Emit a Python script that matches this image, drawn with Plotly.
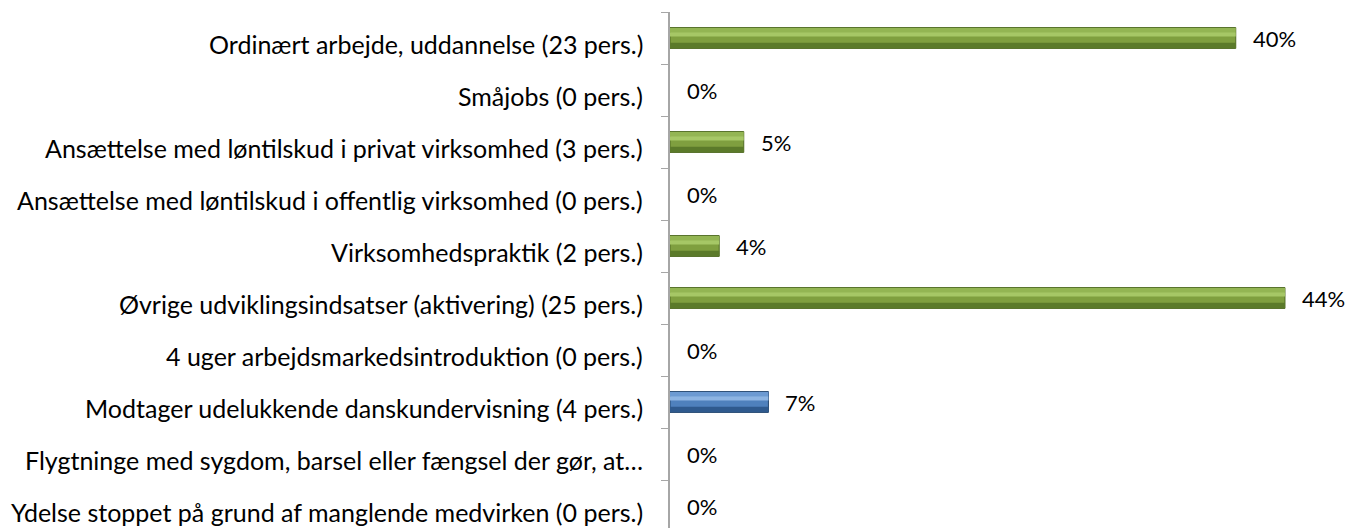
import plotly.graph_objects as go

categories = [
    "Ordinært arbejde, uddannelse (23 pers.)",
    "Småjobs (0 pers.)",
    "Ansættelse med løntilskud i privat virksomhed (3 pers.)",
    "Ansættelse med løntilskud i offentlig virksomhed (0 pers.)",
    "Virksomhedspraktik (2 pers.)",
    "Øvrige udviklingsindsatser (aktivering) (25 pers.)",
    "4 uger arbejdsmarkedsintroduktion (0 pers.)",
    "Modtager udelukkende danskundervisning (4 pers.)",
    "Flygtninge med sygdom, barsel eller fængsel der gør, at…",
    "Ydelse stoppet på grund af manglende medvirken (0 pers.)",
]
values = [0.4035, 0.0, 0.0526, 0.0, 0.0351, 0.4386, 0.0, 0.0702, 0.0, 0.0]
labels = ["40%", "0%", "5%", "0%", "4%", "44%", "0%", "7%", "0%", "0%"]
is_blue = [False] * 7 + [True] + [False] * 2

GREEN = dict(mid="#7F9F3F", light="#A6C766", top="#93B553", dark="#5B7A2A", edge="#4F6A22")
BLUE = dict(mid="#4F81BD", light="#8DB4E2", top="#6C9AD2", dark="#2F5A8E", edge="#24476F")

def shade(key):
    return [(BLUE if b else GREEN)[key] for b in is_blue]

FONT = "Lato"
lw = [0 if v == 0 else 1 for v in values]

fig = go.Figure()
# base bar
fig.add_trace(go.Bar(
    x=values, y=categories, orientation="h", width=0.4,
    marker=dict(color=shade("mid"), line=dict(color=shade("edge"), width=lw)),
    hoverinfo="skip", showlegend=False,
))
# bevel layers
for key, off, w in [("top", 0.11, 0.08), ("light", 0.03, 0.08), ("dark", -0.19, 0.10)]:
    fig.add_trace(go.Bar(
        x=values, y=categories, orientation="h", width=w, offset=off,
        marker=dict(color=shade(key), line=dict(width=0)),
        hoverinfo="skip", showlegend=False,
    ))

for c, v, t in zip(categories, values, labels):
    fig.add_annotation(x=v, y=c, text=t, showarrow=False, xanchor="left",
                       xshift=15, font=dict(family=FONT, size=22, color="#000"))
    fig.add_annotation(x=0, xref="paper", y=c, text=c, showarrow=False,
                       xanchor="right", xshift=-25, yshift=-6,
                       font=dict(family=FONT, size=25, color="#000"))

fig.update_layout(
    width=1349, height=528,
    margin=dict(l=670, r=50, t=12, b=0),
    barmode="overlay",
    plot_bgcolor="white", paper_bgcolor="white",
    font=dict(family=FONT, size=25, color="#000"),
    xaxis=dict(range=[0, 0.4486], visible=False, fixedrange=True),
    yaxis=dict(
        categoryorder="array", categoryarray=categories[::-1],
        range=[-0.423, 9.5], automargin=False, fixedrange=True,
        showline=True, linecolor="#A6A6A6", linewidth=1.5,
        ticks="outside", tickson="boundaries", ticklen=7, tickcolor="#A6A6A6",
        showticklabels=False, showgrid=False, zeroline=False,
    ),
)

fig.write_html(
    "out.html",
    config={"displayModeBar": False},
    post_script="document.body.style.margin='0';document.body.style.overflow='hidden';",
)
